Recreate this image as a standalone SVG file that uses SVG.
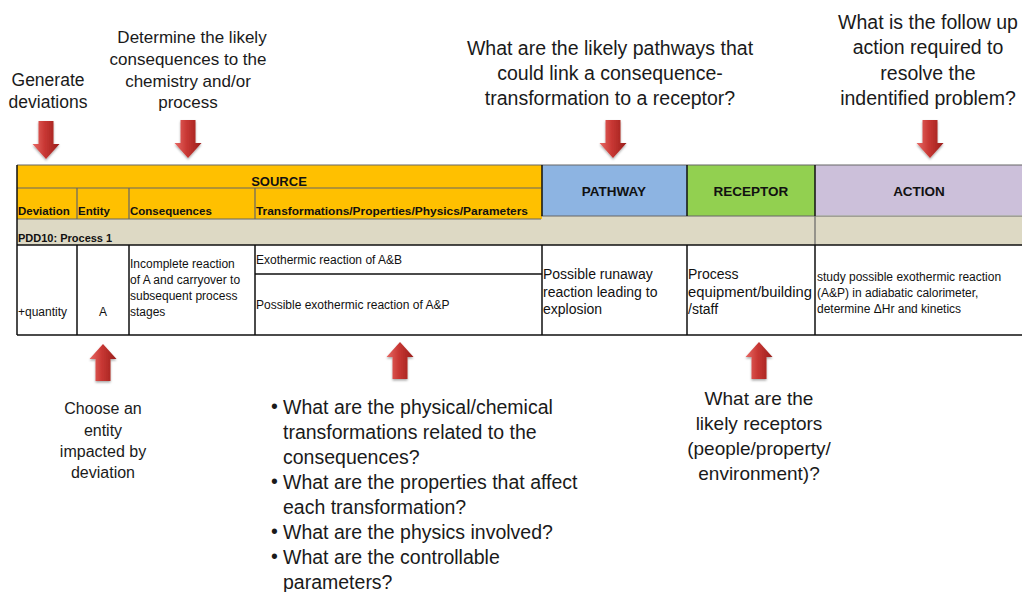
<svg xmlns="http://www.w3.org/2000/svg" width="1022" height="592" viewBox="0 0 1022 592">
<style>
.q{font-family:"Liberation Sans",Arial,sans-serif;fill:#1a1a1a;text-anchor:middle}
.b{font-family:"Liberation Sans",Arial,sans-serif;fill:#1a1a1a;font-size:19.5px}
.h{font-family:"Liberation Sans",Arial,sans-serif;font-weight:bold;fill:#111}
.t{font-family:"Liberation Sans",Arial,sans-serif;fill:#111;font-size:12px}
.m{font-family:"Liberation Sans",Arial,sans-serif;fill:#111;font-size:14px}
.k{stroke:#111;stroke-width:1.5;fill:none}
.g{stroke:#666;stroke-width:1.2;fill:none}
.arrow{fill:url(#red);filter:url(#sh)}
</style>
<defs>
<linearGradient id="red" x1="0" y1="0" x2="1" y2="0">
<stop offset="0" stop-color="#e86a66"/>
<stop offset="0.45" stop-color="#c83733"/>
<stop offset="1" stop-color="#9a1f1c"/>
</linearGradient>
<filter id="sh" x="-30%" y="-20%" width="160%" height="150%">
<feDropShadow dx="0" dy="1.5" stdDeviation="1.2" flood-color="#000" flood-opacity="0.35"/>
</filter>
<path id="down" d="M-7.5,0 H7.5 V23 H13.5 L0,38 L-13.5,23 H-7.5 Z"/>
<path id="up" d="M0,0 L13.5,15 H7.5 V37 H-7.5 V15 H-13.5 Z"/>
</defs>

<g id="table">
<rect x="17" y="216" width="1005" height="29" fill="#DDD9C4"/>
<rect x="17" y="165" width="525" height="54" fill="#FFC000"/>
<rect x="542" y="165" width="145" height="51" fill="#8DB4E2"/>
<rect x="687" y="165" width="128" height="51" fill="#92D050"/>
<rect x="815" y="165" width="207" height="50" fill="#CCC0DA"/>
<rect x="17" y="245" width="1005" height="90" fill="#fff"/>
<path class="g" d="M17,165 H1022 M17,188 H541 M17,219 H541 M541,216 H1022 M815,245 V216"/>
<path class="g" d="M77,188 V219 M129,188 V219 M255,188 V219"/>
<path class="k" d="M542,165 V216 M687,165 V216 M815,165 V216 M17,165 V335"/>
<path class="k" d="M17,245 H1022 M17,335 H1022 M255,274 H542"/>
<path class="k" d="M77,245 V335 M129,245 V335 M255,245 V335 M542,245 V335 M687,245 V335 M815,245 V335"/>
<text class="h" x="279" y="186" font-size="13" text-anchor="middle">SOURCE</text>
<text class="h" x="18" y="215" font-size="11.5">Deviation</text>
<text class="h" x="78" y="215" font-size="11.5">Entity</text>
<text class="h" x="130" y="215" font-size="11.5">Consequences</text>
<text class="h" x="256" y="215" font-size="11.5" textLength="272" lengthAdjust="spacingAndGlyphs">Transformations/Properties/Physics/Parameters</text>
<text class="h" x="614" y="196" font-size="13.5" text-anchor="middle">PATHWAY</text>
<text class="h" x="751" y="196" font-size="13.5" text-anchor="middle">RECEPTOR</text>
<text class="h" x="919" y="196" font-size="13.5" text-anchor="middle">ACTION</text>
<text class="h" x="18" y="242" font-size="11">PDD10: Process 1</text>
<text class="t" x="18" y="316" font-size="12.5">+quantity</text>
<text class="t" x="103" y="316" text-anchor="middle">A</text>
<text class="t" x="130" y="268">Incomplete reaction</text>
<text class="t" x="130" y="284">of A and carryover to</text>
<text class="t" x="130" y="300">subsequent process</text>
<text class="t" x="130" y="316">stages</text>
<text class="t" x="256" y="264">Exothermic reaction of A&amp;B</text>
<text class="t" x="256" y="309">Possible exothermic reaction of A&amp;P</text>
<text class="m" x="543" y="279">Possible runaway</text>
<text class="m" x="543" y="297">reaction leading to</text>
<text class="m" x="543" y="314">explosion</text>
<text class="m" x="688" y="279">Process</text>
<text class="m" x="688" y="297" textLength="124" lengthAdjust="spacingAndGlyphs">equipment/building</text>
<text class="m" x="688" y="314">/staff</text>
<text class="t" x="817" y="281">study possible exothermic reaction</text>
<text class="t" x="817" y="297">(A&amp;P) in adiabatic calorimeter,</text>
<text class="t" x="817" y="313">determine ΔHr and kinetics</text>
</g>

<g id="connectors">
<use href="#down" class="arrow" x="46" y="121"/>
<use href="#down" class="arrow" x="188" y="120"/>
<use href="#down" class="arrow" x="613" y="120"/>
<use href="#down" class="arrow" x="930" y="120"/>
<use href="#up" class="arrow" x="103" y="344"/>
<use href="#up" class="arrow" x="400" y="342"/>
<use href="#up" class="arrow" x="759" y="342"/>
</g>

<g id="label-deviations">
<text class="q" x="48" y="86" font-size="17.5">Generate</text>
<text class="q" x="48" y="108" font-size="17.5">deviations</text>
</g>
<g id="label-consequences">
<text class="q" x="192" y="43" font-size="17">Determine the likely</text>
<text class="q" x="188" y="65" font-size="17">consequences to the</text>
<text class="q" x="188" y="87" font-size="17">chemistry and/or</text>
<text class="q" x="188" y="108" font-size="17">process</text>
</g>
<g id="label-pathway">
<text class="q" x="610" y="55" font-size="19.5">What are the likely pathways that</text>
<text class="q" x="610" y="80" font-size="19.5">could link a consequence-</text>
<text class="q" x="610" y="105" font-size="19.5">transformation to a receptor?</text>
</g>
<g id="label-action">
<text class="q" x="928" y="29" font-size="19.5">What is the follow up</text>
<text class="q" x="928" y="54" font-size="19.5">action required to</text>
<text class="q" x="928" y="80" font-size="19.5">resolve the</text>
<text class="q" x="928" y="105" font-size="19.5">indentified problem?</text>
</g>
<g id="label-entity">
<text class="q" x="103" y="414" font-size="16">Choose an</text>
<text class="q" x="103" y="436" font-size="16">entity</text>
<text class="q" x="103" y="457" font-size="16">impacted by</text>
<text class="q" x="103" y="478" font-size="16">deviation</text>
</g>
<g id="label-transformations">
<text class="b" x="271" y="413" font-size="12">•</text>
<text class="b" x="283" y="414">What are the physical/chemical</text>
<text class="b" x="283" y="439">transformations related to the</text>
<text class="b" x="283" y="464">consequences?</text>
<text class="b" x="271" y="488" font-size="12">•</text>
<text class="b" x="283" y="489">What are the properties that affect</text>
<text class="b" x="283" y="514">each transformation?</text>
<text class="b" x="271" y="538" font-size="12">•</text>
<text class="b" x="283" y="539">What are the physics involved?</text>
<text class="b" x="271" y="563" font-size="12">•</text>
<text class="b" x="283" y="564">What are the controllable</text>
<text class="b" x="283" y="589">parameters?</text>
</g>
<g id="label-receptor">
<text class="q" x="759" y="405" font-size="19">What are the</text>
<text class="q" x="759" y="430" font-size="19">likely receptors</text>
<text class="q" x="759" y="455" font-size="19">(people/property/</text>
<text class="q" x="759" y="480" font-size="19">environment)?</text>
</g>
</svg>
